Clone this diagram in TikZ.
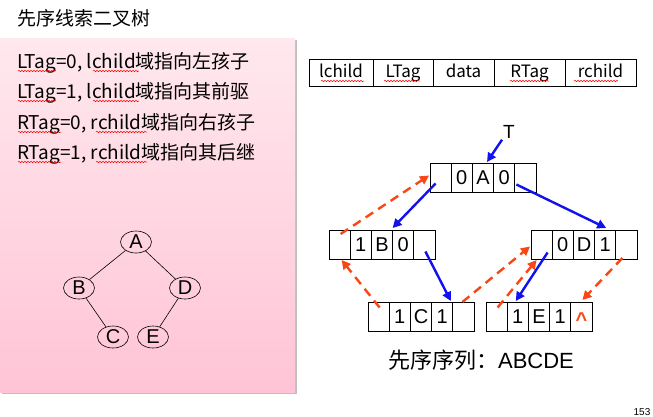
\documentclass[tikz,border=0pt]{standalone}
\usepackage{fontspec}
\setmainfont{Liberation Sans}
\newfontfamily\cjk{Noto Sans CJK SC}
\usetikzlibrary{arrows.meta,decorations.pathmorphing,calc,shapes.geometric}
\definecolor{arrowblue}{RGB}{18,18,235}
\definecolor{threadred}{RGB}{250,70,20}
\definecolor{pinktop}{RGB}{255,232,238}
\definecolor{pinkbot}{RGB}{255,196,214}
\newcommand\myrecord[8]{%
  \node[cell] (#1a) at (#2,#3) {#4};
  \node[cell] (#1b) at (#1a.north east) {#5};
  \node[cell] (#1c) at (#1b.north east) {#6};
  \node[cell] (#1d) at (#1c.north east) {#7};
  \node[cell] (#1e) at (#1d.north east) {#8};}
\begin{document}
\begin{tikzpicture}[x=1pt,y=-1pt,
  cell/.style={draw,line width=0.9pt,minimum width=21.2pt,minimum height=29pt,inner sep=0pt,outer sep=0pt,anchor=north west,text height=14pt,text depth=0pt,font=\fontsize{20}{20}\selectfont},
  hcell/.style={draw,line width=0.9pt,minimum height=27pt,inner sep=0pt,outer sep=0pt,anchor=north west,text height=13pt,text depth=4pt,font=\cjk\fontsize{17}{17}\selectfont},
  tnode/.style={draw,ellipse,line width=0.6pt,minimum width=31pt,minimum height=22pt,inner sep=0pt,font=\fontsize{20}{20}\selectfont},
  boxtext/.style={anchor=west,inner sep=0pt,font=\cjk\fontsize{19}{20}\selectfont},
  squiggle/.style={draw=red,line width=0.5pt,decorate,decoration={snake,segment length=3pt,amplitude=0.7pt}},
  bluearrow/.style={draw=arrowblue,line width=2.4pt,-{Triangle[length=9pt,width=9pt]}},
  redarrow/.style={draw=threadred,line width=2.4pt,dash pattern=on 9pt off 6pt,-{Triangle[length=9pt,width=9pt]}},
  treeedge/.style={draw,line width=0.6pt}]
\useasboundingbox (0,0) rectangle (653,416);
\fill[white] (0,0) rectangle (653,416);
% title
\node[boxtext] (title) at (17,18) {先序线索二叉树};
% pink panel with shadow
\fill[black!25] (2,40) rectangle (297,394);
\shade[top color=pinktop,bottom color=pinkbot] (0,38) rectangle (295,392);
\node[boxtext] (l1) at (17,63) {LTag=0, lchild域指向左孩子};
\node[boxtext] (l2) at (17,93) {LTag=1, lchild域指向其前驱};
\node[boxtext] (l3) at (17,124) {RTag=0, rchild域指向右孩子};
\node[boxtext] (l4) at (17,154) {RTag=1, rchild域指向其后继};
\path[squiggle] (18,71) -- (56,71);
\path[squiggle] (93,71) -- (139,71);
\path[squiggle] (18,101) -- (56,101);
\path[squiggle] (93,101) -- (139,101);
\path[squiggle] (18,132) -- (61,132);
\path[squiggle] (96,132) -- (147,132);
\path[squiggle] (18,162) -- (61,162);
\path[squiggle] (96,162) -- (147,162);
% small tree
\node[tnode] (tA) at (136,242) {A};
\node[tnode] (tB) at (79,288) {B};
\node[tnode] (tD) at (185,288) {D};
\node[tnode] (tC) at (113,337) {C};
\node[tnode] (tE) at (153,337) {E};
\path[treeedge] (tA) -- (tB);
\path[treeedge] (tA) -- (tD);
\path[treeedge] (tB) -- (tC);
\path[treeedge] (tD) -- (tE);
% header record
\node[hcell,minimum width=64pt] (h1) at (309,59) {lchild};
\node[hcell,minimum width=60pt] (h2) at (h1.north east) {LTag};
\node[hcell,minimum width=61pt] (h3) at (h2.north east) {data};
\node[hcell,minimum width=71pt] (h4) at (h3.north east) {RTag};
\node[hcell,minimum width=71pt] (h5) at (h4.north east) {rchild};
\path[squiggle] (321,81) -- (364,81);
\path[squiggle] (384,81) -- (420,81);
\path[squiggle] (510,81) -- (549,81);
\path[squiggle] (574,81) -- (618,81);
% thread records
\myrecord{A}{430}{163}{}{0}{A}{0}{}
\myrecord{B}{329}{230}{}{1}{B}{0}{}
\myrecord{D}{531}{230}{}{0}{D}{1}{}
\myrecord{C}{368}{302}{}{1}{C}{1}{}
\myrecord{E}{486}{302}{}{1}{E}{1}{\textcolor{threadred}{\raisebox{-3pt}{\bfseries\textasciicircum}}}
% T pointer
\node[font=\fontsize{19}{19}\selectfont,inner sep=0pt] (T) at (509,132) {T};
\path[bluearrow] ($(T.south west)+(-1,1)$) -- ($(Ac.north)+(4,-1)$);
% child pointers
\path[bluearrow] ($(Aa.center)+(-5,6)$) -- ($(Bd.north west)+(0,-2)$);
\path[bluearrow] ($(Ae.center)+(-9,7)$) -- ($(Dd.north)+(1,-2)$);
\path[bluearrow] ($(Be.center)+(1,7)$) -- ($(Cd.north east)+(-2,-1)$);
\path[bluearrow] ($(Da.center)+(6,8)$) -- ($(Eb.north)+(-2,-1)$);
% threads
\path[redarrow] ($(Ba.north)+(1,4)$) -- ($(Aa.west)+(-1,-2)$);
\path[redarrow] ($(Ca.center)+(1,-9)$) -- ($(Ba.south)+(2,1)$);
\path[redarrow] ($(Ce.north)+(-1,0)$) -- ($(Da.west)+(-1,2)$);
\path[redarrow] ($(Ea.center)+(1,-9)$) -- ($(Da.south)+(-5,1)$);
\path[redarrow] ($(De.south)+(-4,-1)$) -- ($(Ee.north)+(1,-2)$);
% preorder sequence
\node[inner sep=0pt,font=\fontsize{22}{22}\selectfont] (seq) at (481,360) {{\cjk 先序序列：}ABCDE};
% page number
\node[anchor=south,inner sep=0pt,font=\fontsize{10}{10}\selectfont] (pg) at (642,415.5) {153};
\end{tikzpicture}
\end{document}
